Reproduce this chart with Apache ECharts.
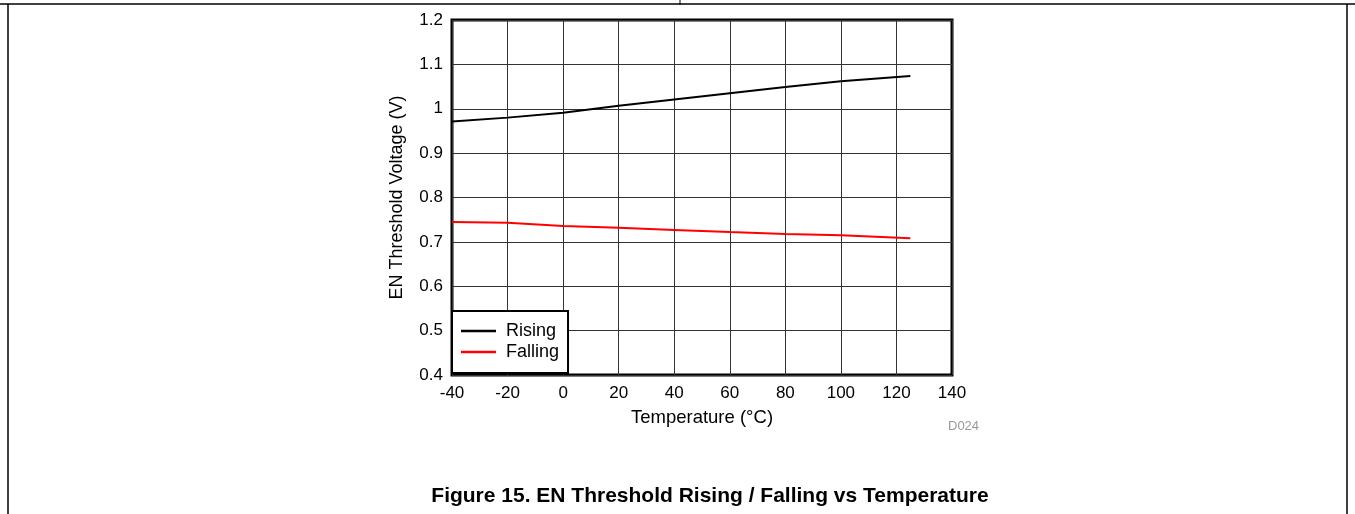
<!DOCTYPE html>
<html>
<head>
<meta charset="utf-8">
<script src="https://cdn.jsdelivr.net/npm/echarts@6/dist/echarts.min.js"></script>
<style>
html,body{margin:0;padding:0;background:#fff;}
#c{width:1355px;height:514px;}
</style>
</head>
<body>
<div id="c"></div>
<script>
const temperatures = [-40, -20, 0, 20, 40, 60, 80, 100, 125];
const risingVolts = [0.971, 0.980, 0.991, 1.007, 1.021, 1.035, 1.049, 1.062, 1.074];
const fallingVolts = [0.745, 0.743, 0.736, 0.732, 0.727, 0.722, 0.718, 0.715, 0.708];
const seriesNames = ['Rising', 'Falling'];
const xAxisTitle = 'Temperature (°C)';
const yAxisTitle = 'EN Threshold Voltage (V)';
const figureTitle = 'Figure 15. EN Threshold Rising / Falling vs Temperature';
const figureCode = 'D024';

const font = '"Liberation Sans", Arial, sans-serif';
const chart = echarts.init(document.getElementById('c'), null, {renderer: 'canvas'});

const pair = (xs, ys) => xs.map((x, i) => [x, ys[i]]);

chart.setOption({
  animation: false,
  backgroundColor: '#fff',
  textStyle: {fontFamily: font},
  grid: {
    left: 452, top: 20, width: 500, height: 355,
    show: true, borderColor: '#000', borderWidth: 3, backgroundColor: 'transparent',
    containLabel: false
  },
  xAxis: {
    type: 'value', min: -40, max: 140, interval: 20,
    name: xAxisTitle, nameLocation: 'middle', nameGap: 33,
    nameTextStyle: {fontSize: 18.5, color: '#000', fontFamily: font},
    axisLine: {show: false}, axisTick: {show: false},
    axisLabel: {fontSize: 17, color: '#000', margin: 10, fontFamily: font},
    splitLine: {show: true, lineStyle: {color: '#333', width: 1}}
  },
  yAxis: {
    type: 'value', min: 0.4, max: 1.2, interval: 0.1,
    name: yAxisTitle, nameLocation: 'middle', nameGap: 46,
    nameTextStyle: {fontSize: 18, color: '#000', fontFamily: font},
    axisLine: {show: false}, axisTick: {show: false},
    axisLabel: {fontSize: 17, color: '#000', margin: 9, fontFamily: font,
      formatter: v => String(Math.round(v * 10) / 10)},
    splitLine: {show: true, lineStyle: {color: '#333', width: 1}}
  },
  legend: {
    show: true, orient: 'vertical', left: 452, top: 311,
    backgroundColor: '#fff', borderColor: '#000', borderWidth: 2,
    padding: [10, 9, 11, 9], itemGap: 1, itemWidth: 35, itemHeight: 2.5,
    icon: 'rect',
    textStyle: {fontSize: 18, color: '#000', lineHeight: 20, fontFamily: font, padding: [0, 0, 0, 5]},
    data: seriesNames
  },
  series: [
    {name: seriesNames[0], type: 'line', data: pair(temperatures, risingVolts),
      symbol: 'none', smooth: false, lineStyle: {color: '#000', width: 2}, itemStyle: {color: '#000'}},
    {name: seriesNames[1], type: 'line', data: pair(temperatures, fallingVolts),
      symbol: 'none', smooth: false, lineStyle: {color: '#ff0000', width: 2}, itemStyle: {color: '#ff0000'}}
  ],
  graphic: [
    {type: 'line', shape: {x1: 0, y1: 4, x2: 1355, y2: 4}, style: {stroke: '#000', lineWidth: 1.5}},
    {type: 'line', shape: {x1: 680, y1: 0, x2: 680, y2: 5}, style: {stroke: '#000', lineWidth: 1}},
    {type: 'line', shape: {x1: 8, y1: 4, x2: 8, y2: 514}, style: {stroke: '#000', lineWidth: 1.5}},
    {type: 'line', shape: {x1: 1347, y1: 4, x2: 1347, y2: 514}, style: {stroke: '#000', lineWidth: 1.5}},
    {type: 'text', left: 948, top: 420, style: {text: figureCode, fontSize: 13, fill: '#999', fontFamily: font}},
    {type: 'text', x: 710, y: 496, style: {text: figureTitle, fontSize: 21, fontWeight: 'bold', fill: '#000', fontFamily: font, align: 'center', verticalAlign: 'middle'}}
  ]
});
</script>
</body>
</html>
